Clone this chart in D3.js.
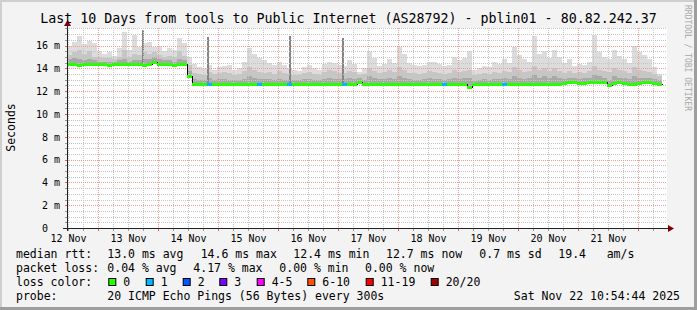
<!DOCTYPE html>
<html>
<head>
<meta charset="utf-8">
<script src="https://cdn.jsdelivr.net/npm/d3@7"></script>
<style>
  body { margin: 0; background: #f3f3f3; }
  text { font-family: "DejaVu Sans Mono", monospace; fill: #000; }
</style>
</head>
<body>
<div id="chart"></div>
<script>
// graph spans 10 days, one value every 2 hours
var startTime = new Date(2025, 10, 12, 11, 36);
var endTime = new Date(2025, 10, 22, 11, 36);
var stepHours = 2;

var median = [
  14.35,14.35,14.34,14.35,14.35,14.36,14.35,14.35,14.34,14.35,
  14.35,14.35,14.36,14.35,14.35,14.34,14.35,14.55,14.35,14.35,
  14.35,14.34,14.35,14.35,13.3,
  12.65,12.65,12.63,12.65,12.64,12.62,12.65,12.66,12.65,12.64,
  12.65,12.66,12.64,12.65,12.65,12.63,12.66,12.65,12.64,12.65,
  12.64,12.65,12.66,12.65,12.63,12.65,12.66,12.64,12.65,12.65,
  12.64,12.66,12.65,12.85,12.66,12.64,12.65,12.65,12.66,12.64,
  12.65,12.64,12.66,12.65,12.65,12.63,12.66,12.65,12.64,12.65,
  12.65,12.66,12.64,12.6,12.62,12.4,12.6,12.65,12.64,12.66,
  12.65,12.64,12.65,12.66,12.65,12.64,12.63,12.65,12.66,12.65,
  12.64,12.65,12.66,12.65,12.7,12.8,12.8,12.7,12.75,12.8,
  12.8,12.82,12.8,12.5,12.7,12.8,12.7,12.66,12.65,12.7,
  12.8,12.8,12.7,12.66
];

// lost pings (of 20) per step
var loss = [
  0,0,0,0,0,0,0,0,0,0,
  0,0,0,0,0,0,0,0,0,0,
  0,0,0,0,0,0,0,0,1,0,
  0,0,0,0,0,0,0,0,1,0,
  0,0,0,0,1,0,0,0,0,0,
  0,0,0,0,0,1,0,0,0,0,
  0,0,0,0,0,0,0,0,0,0,
  0,0,0,0,0,1,0,0,0,0,
  0,0,0,0,0,0,0,1,0,0,
  0,0,0,0,0,0,0,0,0,0,
  0,0,0,0,0,0,0,0,0,0,
  0,0,0,0,0,0,0,0,0
];

// smoke: top of light, mid and dark bands (ms)
var smokeHi = [
  16.0,16.3,16.8,16.1,16.4,16.2,15.5,15.3,15.4,15.1,
  15.8,17.2,15.6,16.9,15.9,16.2,16.3,15.9,16.0,15.5,
  15.8,15.6,16.7,16.2,15.0,
  14.4,14.1,14.0,14.3,13.9,14.1,14.2,14.3,13.9,14.0,
  14.6,15.8,15.3,14.9,14.7,14.5,14.3,14.6,14.3,14.0,
  13.9,13.8,14.1,14.3,14.0,13.9,14.4,14.6,14.5,14.3,
  14.2,14.7,14.4,13.7,14.0,15.5,14.9,14.2,14.4,14.8,
  14.5,15.9,15.3,14.5,14.3,14.2,14.3,14.6,14.6,14.4,
  14.2,14.3,15.0,14.7,14.9,15.5,13.9,14.0,14.2,14.1,
  14.6,14.4,14.8,14.5,15.9,15.2,14.8,14.6,16.8,15.3,
  15.5,14.9,15.6,15.0,14.5,14.8,14.2,14.4,14.3,14.6,
  16.9,15.4,15.0,14.8,15.6,15.1,14.8,14.5,16.0,15.4,
  15.2,14.8,14.1,13.5
];
var smokeMid = [
  15.2,15.4,15.6,15.3,15.5,15.0,15.0,14.9,14.9,14.8,
  15.0,15.6,15.0,15.3,15.2,15.4,15.3,15.4,15.2,15.0,
  15.1,15.0,15.5,15.1,14.3,
  13.6,13.5,13.4,13.7,13.5,13.6,13.7,13.6,13.4,13.5,
  13.8,14.1,13.9,13.7,13.6,13.7,13.5,13.8,13.6,13.5,
  13.4,13.4,13.6,13.7,13.5,13.4,13.7,13.9,13.8,13.6,
  13.6,13.8,13.7,13.4,13.5,14.0,13.8,13.6,13.7,13.9,
  13.7,14.1,13.9,13.6,13.6,13.5,13.6,13.8,13.7,13.6,
  13.5,13.6,13.9,13.7,13.8,13.9,13.4,13.5,13.6,13.5,
  13.7,13.6,13.8,13.7,14.1,13.9,13.7,13.8,14.2,13.9,
  14.0,13.8,14.0,13.8,13.6,13.8,13.6,13.7,13.6,13.8,
  14.2,13.9,13.8,13.7,14.0,13.9,13.8,13.6,14.1,13.9,
  13.8,13.7,13.5,13.3
];
var smokeLo = [
  14.8,14.9,14.8,14.7,14.8,14.7,14.6,14.6,14.6,14.6,
  14.7,14.8,14.6,14.7,14.7,14.8,14.8,15.0,14.8,14.7,
  14.7,14.6,14.8,14.7,13.8,
  13.1,13.0,13.0,13.2,13.0,13.1,13.1,13.0,13.0,13.0,
  13.1,13.3,13.2,13.1,13.1,13.1,13.0,13.1,13.0,13.0,
  13.0,13.0,13.1,13.1,13.0,13.0,13.1,13.2,13.1,13.1,
  13.1,13.2,13.1,13.2,13.0,13.3,13.2,13.1,13.1,13.2,
  13.1,13.3,13.2,13.1,13.0,13.0,13.1,13.2,13.1,13.1,
  13.0,13.1,13.2,13.1,13.2,13.2,12.9,13.0,13.1,13.0,
  13.1,13.1,13.2,13.1,13.3,13.2,13.1,13.2,13.4,13.2,
  13.3,13.2,13.3,13.2,13.1,13.2,13.2,13.1,13.2,13.2,
  13.4,13.3,13.2,13.0,13.3,13.2,13.2,13.1,13.3,13.2,
  13.2,13.2,13.1,13.0
];

// single-ping outliers
var spikeTimes = [new Date(2025, 10, 13, 18, 0), new Date(2025, 10, 14, 20, 0), new Date(2025, 10, 16, 4, 48), new Date(2025, 10, 17, 2, 0)];
var spikeTops = [17.4, 16.75, 16.8, 16.7];

var yTicks = [0, 2, 4, 6, 8, 10, 12, 14, 16];
var tickDays = [12, 13, 14, 15, 16, 17, 18, 19, 20, 21];

var lossLabels = ["0", "1", "2", "3", "4-5", "6-10", "11-19", "20/20"];
var lossColors = ["#26ff00", "#00b8ff", "#0059ff", "#7e00ff", "#ff00ff", "#ff5500", "#ff0000", "#a10000"];

var titleText = "Last 10 Days from tools to Public Internet (AS28792) - pblin01 - 80.82.242.37";
var rttLegend = ["median rtt:", "13.0 ms avg", "14.6 ms max", "12.4 ms min", "12.7 ms now", "0.7 ms sd", "19.4", "am/s"];
var lossLegend = ["packet loss:", "0.04 % avg", "4.17 % max", "0.00 % min", "0.00 % now"];
var probeLegend = ["probe:", "20 ICMP Echo Pings (56 Bytes) every 300s"];
var stampText = "Sat Nov 22 10:54:44 2025";

var svgWidth = 697;
var svgHeight = 310;
var plot = { left: 67, top: 28, width: 600, height: 200 };

var svg = d3.select("#chart")
  .append("svg")
  .attr("width", svgWidth)
  .attr("height", svgHeight);

// frame
svg.append("rect").attr("width", svgWidth).attr("height", svgHeight).attr("fill", "#f3f3f3");
svg.append("rect").attr("x", 0).attr("y", 0).attr("width", svgWidth).attr("height", 2).attr("fill", "#cfcfcf");
svg.append("rect").attr("x", 0).attr("y", 0).attr("width", 2).attr("height", svgHeight).attr("fill", "#cfcfcf");
svg.append("rect").attr("x", svgWidth - 3).attr("y", 0).attr("width", 3).attr("height", svgHeight).attr("fill", "#9e9e9e");
svg.append("rect").attr("x", 0).attr("y", svgHeight - 3).attr("width", svgWidth).attr("height", 3).attr("fill", "#9e9e9e");

svg.append("rect")
  .attr("x", plot.left).attr("y", plot.top)
  .attr("width", plot.width).attr("height", plot.height)
  .attr("fill", "#ffffff");

var x = d3.scaleTime()
  .domain([startTime, endTime])
  .range([plot.left, plot.left + plot.width]);

var y = d3.scaleLinear()
  .domain([0, plot.height / 11.4])
  .range([plot.top + plot.height, plot.top]);

var points = median.map(function(m, i) {
  return {
    time: d3.timeHour.offset(startTime, i * stepHours),
    median: m, loss: loss[i], hi: smokeHi[i], mid: smokeMid[i], lo: smokeLo[i]
  };
});
var lastPoint = points[points.length - 1];
var stepped = points.concat([Object.assign({}, lastPoint, { time: d3.timeHour.offset(lastPoint.time, stepHours) })]);

// smoke
var smokeLayers = [["hi", "#dcdcdc"], ["mid", "#c6c6c6"], ["lo", "#a9a9a9"]];
smokeLayers.forEach(function(layer) {
  var area = d3.area()
    .curve(d3.curveStepAfter)
    .x(d => x(d.time))
    .y0(d => y(d.median) + 1)
    .y1(d => y(d[layer[0]]));
  svg.append("path")
    .datum(stepped)
    .attr("d", area)
    .attr("fill", layer[1])
    .attr("shape-rendering", "crispEdges");
});

// outlier spikes
svg.selectAll(".spike")
  .data(spikeTimes)
  .enter()
  .append("rect")
  .attr("class", "spike")
  .attr("x", d => Math.round(x(d)) - 1)
  .attr("width", 2)
  .attr("y", (d, i) => Math.round(y(spikeTops[i])))
  .attr("height", function(d, i) {
    var idx = Math.floor((d - startTime) / (stepHours * 3600e3));
    return Math.round(y(median[idx])) - Math.round(y(spikeTops[i]));
  })
  .attr("fill", "#858585");

// grid
var gridGroup = svg.append("g").attr("shape-rendering", "crispEdges");
var minorY = d3.range(1, 36).map(d => d / 2).filter(d => d % 2 !== 0);
var majorY = yTicks.filter(d => d > 0);
var dayLines = d3.timeDay.range(d3.timeDay.ceil(startTime), endTime);
var sixHourLines = d3.timeHour.every(6).range(startTime, endTime).filter(d => d.getHours() !== 0);

gridGroup.selectAll(".ygrid-minor").data(minorY).enter().append("line")
  .attr("x1", plot.left).attr("x2", plot.left + plot.width)
  .attr("y1", d => Math.round(y(d)) + 0.5).attr("y2", d => Math.round(y(d)) + 0.5)
  .attr("stroke", "#c4c4c4").attr("stroke-dasharray", "1,1");
gridGroup.selectAll(".xgrid-minor").data(sixHourLines).enter().append("line")
  .attr("y1", plot.top).attr("y2", plot.top + plot.height)
  .attr("x1", d => Math.round(x(d)) + 0.5).attr("x2", d => Math.round(x(d)) + 0.5)
  .attr("stroke", "#c4c4c4").attr("stroke-dasharray", "1,1");
gridGroup.selectAll(".ygrid-major").data(majorY).enter().append("line")
  .attr("x1", plot.left).attr("x2", plot.left + plot.width)
  .attr("y1", d => Math.round(y(d)) + 0.5).attr("y2", d => Math.round(y(d)) + 0.5)
  .attr("stroke", "#f09a9a").attr("stroke-dasharray", "1,1");
gridGroup.selectAll(".xgrid-major").data(dayLines).enter().append("line")
  .attr("y1", plot.top).attr("y2", plot.top + plot.height)
  .attr("x1", d => Math.round(x(d)) + 0.5).attr("x2", d => Math.round(x(d)) + 0.5)
  .attr("stroke", "#f09a9a").attr("stroke-dasharray", "1,1");

// median: black step line, then loss coloured segments
var medianLine = d3.line()
  .curve(d3.curveStepAfter)
  .x(d => Math.round(x(d.time)) + 0.5)
  .y(d => Math.round(y(d.median)) + 0.5);
svg.append("path")
  .datum(stepped)
  .attr("d", medianLine)
  .attr("fill", "none")
  .attr("stroke", "#000")
  .attr("stroke-width", 1)
  .attr("shape-rendering", "crispEdges");

var lossColor = d3.scaleThreshold()
  .domain([1, 2, 3, 4, 6, 11, 20])
  .range(lossColors);

svg.selectAll(".seg")
  .data(points)
  .enter()
  .append("rect")
  .attr("class", "seg")
  .attr("x", d => Math.round(x(d.time)))
  .attr("width", d => Math.round(x(d3.timeHour.offset(d.time, stepHours))) - Math.round(x(d.time)))
  .attr("y", d => Math.round(y(d.median)) - 1)
  .attr("height", 3)
  .attr("fill", d => lossColor(d.loss));

// axes
var leftAxis = d3.axisLeft(y)
  .tickValues(yTicks)
  .tickSize(0)
  .tickPadding(7)
  .tickFormat(d => d === 0 ? "0\u00a0\u00a0" : d + " m");

var bottomAxis = d3.axisBottom(x)
  .tickValues(tickDays.map(d => new Date(2025, 10, d, 12)))
  .tickSize(0)
  .tickPadding(6.5)
  .tickFormat(d3.timeFormat("%-d Nov"));

var yAxisG = svg.append("g")
  .attr("transform", `translate(${plot.left}, 0)`)
  .call(leftAxis);
var xAxisG = svg.append("g")
  .attr("transform", `translate(0, ${plot.top + plot.height})`)
  .call(bottomAxis);
[yAxisG, xAxisG].forEach(function(g) {
  g.select(".domain").remove();
  g.selectAll("text").attr("font-size", "10px").attr("font-family", "DejaVu Sans Mono").attr("fill", "#000");
});

// small ticks on the axes
var axisTicks = svg.append("g").attr("shape-rendering", "crispEdges");
axisTicks.selectAll(".yt").data(minorY.concat(majorY)).enter().append("line")
  .attr("x1", plot.left - 2).attr("x2", plot.left)
  .attr("y1", d => Math.round(y(d)) + 0.5).attr("y2", d => Math.round(y(d)) + 0.5)
  .attr("stroke", d => d % 2 === 0 ? "#e06060" : "#999");
axisTicks.selectAll(".xt").data(sixHourLines.concat(dayLines)).enter().append("line")
  .attr("y1", plot.top + plot.height + 1).attr("y2", plot.top + plot.height + 3)
  .attr("x1", d => Math.round(x(d)) + 0.5).attr("x2", d => Math.round(x(d)) + 0.5)
  .attr("stroke", d => d.getHours() === 0 ? "#e06060" : "#999");

svg.append("line")
  .attr("x1", plot.left + 0.5).attr("x2", plot.left + 0.5)
  .attr("y1", plot.top + plot.height + 3).attr("y2", plot.top - 3)
  .attr("stroke", "#222").attr("shape-rendering", "crispEdges");
svg.append("line")
  .attr("x1", plot.left - 4).attr("x2", plot.left + plot.width + 1)
  .attr("y1", plot.top + plot.height + 0.5).attr("y2", plot.top + plot.height + 0.5)
  .attr("stroke", "#222").attr("shape-rendering", "crispEdges");
svg.append("path")
  .attr("d", `M${plot.left - 3},${plot.top - 2}L${plot.left + 0.5},${plot.top - 8}L${plot.left + 4},${plot.top - 2}Z`)
  .attr("fill", "#7f0000");
svg.append("path")
  .attr("d", `M${plot.left + plot.width + 1},${plot.top + plot.height - 3}L${plot.left + plot.width + 7},${plot.top + plot.height + 0.5}L${plot.left + plot.width + 1},${plot.top + plot.height + 4}Z`)
  .attr("fill", "#7f0000");

// title and labels
svg.append("text")
  .attr("x", svgWidth / 2)
  .attr("y", 23)
  .attr("text-anchor", "middle")
  .attr("font-size", "13.3px")
  .text(titleText);

svg.append("text")
  .attr("transform", "translate(15, 127.5) rotate(-90)")
  .attr("text-anchor", "middle")
  .attr("font-size", "11.5px")
  .text("Seconds");

svg.append("text")
  .attr("transform", "translate(685, 5) rotate(90)")
  .attr("font-size", "8px")
  .style("fill", "#a8a8a8")
  .text("RRDTOOL / TOBI OETIKER");

// legend
var legend = svg.append("g").attr("font-size", "11.5px");
var rttX = [16, 107.3, 200.7, 293.3, 386, 479.3, 558.3, 606.7];
var lossX = [16, 107.3, 193.3, 279.3, 365];
var boxX = [108.3, 145.7, 182.7, 219.3, 256.7, 307.3, 365.7, 430.7];

legend.selectAll(".rtt").data(rttLegend).enter().append("text")
  .attr("x", (d, i) => rttX[i]).attr("y", 258).text(d => d);
legend.selectAll(".pl").data(lossLegend).enter().append("text")
  .attr("x", (d, i) => lossX[i]).attr("y", 272).text(d => d);

legend.append("text").attr("x", 16).attr("y", 286).text("loss color:");
legend.selectAll(".box").data(lossColors).enter().append("rect")
  .attr("x", (d, i) => boxX[i] + 0.5).attr("y", 278.5)
  .attr("width", 7).attr("height", 7)
  .attr("fill", d => d).attr("stroke", "#000");
legend.selectAll(".boxlabel").data(lossLabels).enter().append("text")
  .attr("x", (d, i) => boxX[i] + 15).attr("y", 286).text(d => d);

legend.append("text").attr("x", 16).attr("y", 300).text(probeLegend[0]);
legend.append("text").attr("x", 107.3).attr("y", 300).text(probeLegend[1]);
legend.append("text").attr("x", 680).attr("y", 300).attr("text-anchor", "end").text(stampText);
</script>
</body>
</html>
